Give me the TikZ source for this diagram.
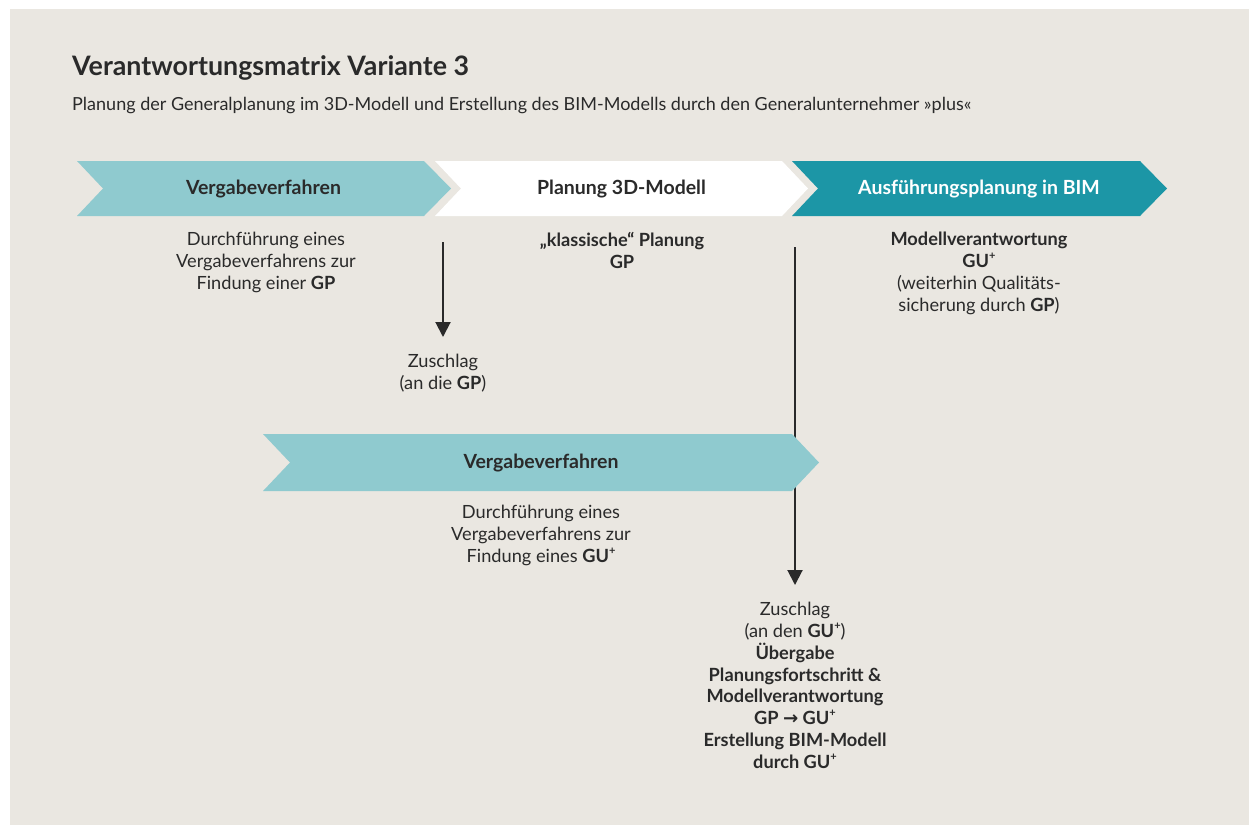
\documentclass[tikz,border=0pt]{standalone}
\usepackage{fontspec}
\setmainfont{Lato}
\newfontfamily\symfont{DejaVu Sans}
\usetikzlibrary{arrows.meta}
\definecolor{bgbeige}{HTML}{EAE7E1}
\definecolor{tealLight}{HTML}{8FCACF}
\definecolor{tealDark}{HTML}{1C96A6}
\definecolor{ink}{HTML}{2A2A2A}
% "GU" with a raised plus sign
\newcommand\gusup{GU\raisebox{0.42em}{\fontsize{11}{11}\selectfont +}}
\begin{document}
\begin{tikzpicture}[x=1pt,y=-1pt,
  bodytext/.style={font=\fontsize{18.2}{21.8}\selectfont, text=ink, align=center, inner sep=0pt, anchor=north},
  boxlabel/.style={font=\bfseries\fontsize{19.5}{22}\selectfont, text=ink, inner sep=0pt},
  flow/.style={line width=2pt, draw=ink, -{Triangle[length=15pt,width=15pt]}}]
% page and background panel
\useasboundingbox (0,0) rectangle (1249,825);
\fill[white] (0,0) rectangle (1249,825);
\fill[bgbeige] (10,9) rectangle (1249,825);

% heading
\node[anchor=base west, inner sep=0pt, font=\bfseries\fontsize{26.8}{30}\selectfont, text=ink] (title) at (72,75) {Verantwortungsmatrix Variante 3};
\node[anchor=base west, inner sep=0pt, font=\fontsize{18}{21}\selectfont, text=ink] (subtitle) at (72,110) {Planung der Generalplanung im 3D-Modell und Erstellung des BIM-Modells durch den Generalunternehmer »plus«};

% top row of phase chevrons
\fill[tealLight] (77,161) -- (424,161) -- (451,188.5) -- (424,216) -- (77,216) -- (103,188.5) -- cycle;
\fill[white] (435,161) -- (782,161) -- (808,188.5) -- (782,216) -- (435,216) -- (461,188.5) -- cycle;
\fill[tealDark] (792,161) -- (1140,161) -- (1167,188.5) -- (1140,216) -- (792,216) -- (818,188.5) -- cycle;
\node[boxlabel] (ph1) at (263.5,189) {Vergabeverfahren};
\node[boxlabel] (ph2) at (621.5,189) {Planung 3D-Modell};
\node[boxlabel, text=white] (ph3) at (979,189) {Ausführungsplanung in BIM};

% descriptions below the phases
\node[bodytext] (d1) at (266,232) {Durchführung eines\\Vergabeverfahrens zur\\Findung einer \textbf{GP}};
\node[bodytext] (d2) at (622,232) {\textbf{„klassische“ Planung}\\\textbf{GP}};
\node[bodytext] (d3) at (979,232) {\textbf{Modellverantwortung}\\\textbf{\gusup}\\(weiterhin Qualitäts-\\sicherung durch \textbf{GP})};

% award to the general planner
\node[bodytext] (z1) at (443,354) {Zuschlag\\(an die \textbf{GP})};
\coordinate (s1) at (443,242);
\draw[flow] (s1) -- ([yshift=17pt]z1.north);

% award to the general contractor and hand-over
\node[bodytext] (z2) at (795,602) {Zuschlag\\(an den \textbf{\gusup})\\\textbf{Übergabe}\\\textbf{Planungsfortschritt \&}\\\textbf{Modellverantwortung}\\\textbf{GP {\symfont\bfseries →} \gusup}\\\textbf{Erstellung BIM-Modell}\\\textbf{durch \gusup}};
\coordinate (s2) at (795,247);
\draw[flow] (s2) -- ([yshift=17pt]z2.north);

% second tender chevron (over the line)
\fill[tealLight] (263,434) -- (792,434) -- (819,462.5) -- (792,491) -- (263,491) -- (290,462.5) -- cycle;
\node[boxlabel] (ph4) at (541,463) {Vergabeverfahren};
\node[bodytext] (d4) at (541,505) {Durchführung eines\\Vergabeverfahrens zur\\Findung eines \textbf{\gusup}};
\end{tikzpicture}
\end{document}
